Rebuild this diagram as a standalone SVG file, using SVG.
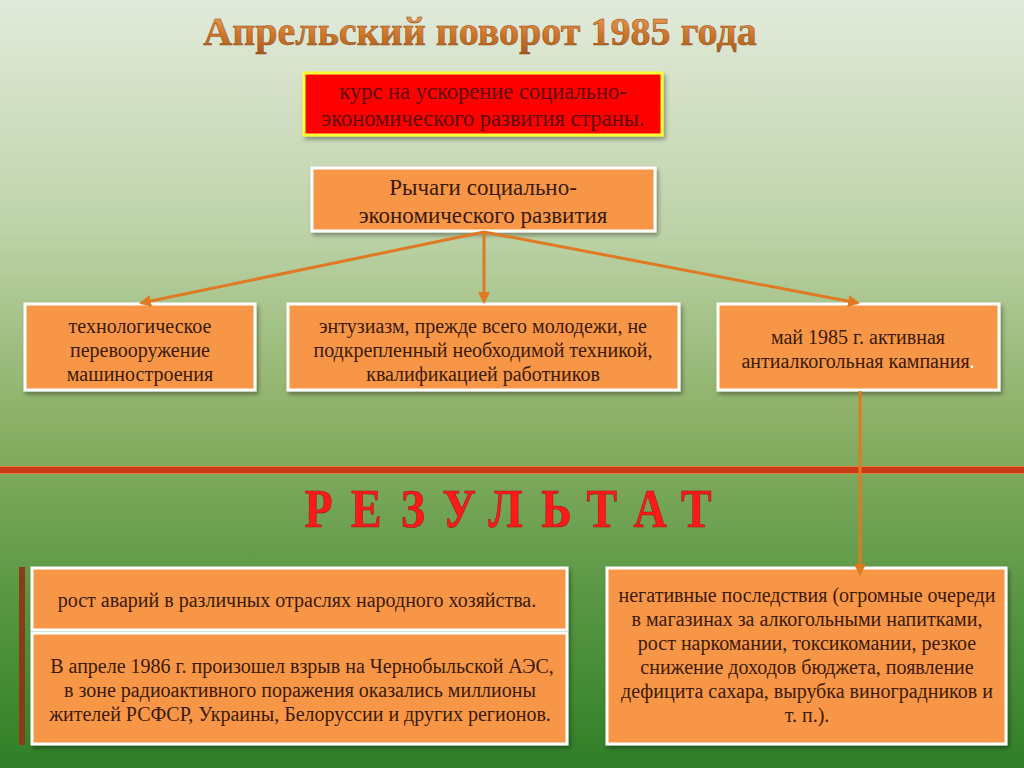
<svg xmlns="http://www.w3.org/2000/svg" width="1024" height="768" viewBox="0 0 1024 768">
<defs>
<linearGradient id="bg" x1="0" y1="0" x2="0" y2="1">
<stop offset="0" stop-color="#e2eadb"/>
<stop offset="0.3" stop-color="#bdd3a8"/>
<stop offset="0.55" stop-color="#8bb066"/>
<stop offset="0.75" stop-color="#5f9a47"/>
<stop offset="1" stop-color="#2f7f27"/>
</linearGradient>
<linearGradient id="tg" x1="0" y1="0" x2="0" y2="1">
<stop offset="0" stop-color="#f0a860"/>
<stop offset="0.5" stop-color="#d47a2c"/>
<stop offset="1" stop-color="#a85a1c"/>
</linearGradient>
<filter id="sh" x="-5%" y="-10%" width="110%" height="130%">
<feDropShadow dx="2" dy="3" stdDeviation="2" flood-color="#000" flood-opacity="0.35"/>
</filter>
<marker id="ah2" markerWidth="12" markerHeight="12" refX="10" refY="6" orient="auto" markerUnits="userSpaceOnUse" viewBox="0 0 12 12">
<path d="M0,0 L12,6 L0,12 z" fill="#e07a22"/>
</marker>
</defs>
<style>
.t{font-family:"Liberation Serif","DejaVu Serif","Times New Roman",serif;fill:#3b1a08;text-anchor:middle}
.box{fill:#f79646;stroke:#ffffff;stroke-width:3;filter:url(#sh)}
.c{stroke:#e07a22;stroke-width:3;fill:none}
</style>
<rect x="0" y="0" width="1024" height="768" fill="url(#bg)"/>

<text x="480" y="45" font-family="'Liberation Serif','DejaVu Serif',serif" font-size="40" font-weight="bold" text-anchor="middle" fill="url(#tg)" stroke="#8a4a18" stroke-width="0.5">Апрельский поворот  1985 года</text>

<rect x="0" y="467" width="1024" height="6" fill="#c83a1a"/>
<rect x="0" y="466" width="1024" height="1" fill="#e8803a"/>
<rect x="0" y="473" width="1024" height="1" fill="#e8803a"/>

<g id="goal">
<rect x="304" y="73" width="358" height="62" fill="#ff0000" stroke="#ffff33" stroke-width="3" filter="url(#sh)"/>
<text class="t" font-size="22.5" style="fill:#5e0a0a"><tspan x="483" y="99">курс на ускорение социально-</tspan><tspan x="483" y="126">экономического развития страны.</tspan></text>
</g>

<g id="levers">
<rect class="box" x="312" y="168" width="343" height="63"/>
<text class="t" font-size="23"><tspan x="483" y="195">Рычаги социально-</tspan><tspan x="483" y="223">экономического развития</tspan></text>
</g>

<g id="tech">
<rect class="box" x="25" y="304" width="230" height="86"/>
<text class="t" font-size="20"><tspan x="140" y="333">технологическое</tspan><tspan x="140" y="357">перевооружение</tspan><tspan x="140" y="381">машиностроения</tspan></text>
</g>

<g id="enthusiasm">
<rect class="box" x="288" y="304" width="391" height="86"/>
<text class="t" font-size="20"><tspan x="483" y="333">энтузиазм, прежде всего молодежи, не</tspan><tspan x="483" y="357">подкрепленный необходимой техникой,</tspan><tspan x="483" y="381">квалификацией работников</tspan></text>
</g>

<g id="antialcohol">
<rect class="box" x="718" y="304" width="281" height="86"/>
<text class="t" font-size="20"><tspan x="858" y="344">май 1985 г. активная</tspan><tspan x="858" y="368">антиалкогольная кампания<tspan style="fill:#ffffff">.</tspan></tspan></text>
</g>

<text x="519" y="527" font-family="'Liberation Serif','DejaVu Serif',serif" font-size="54" font-weight="bold" text-anchor="middle" fill="#ff1a1a" stroke="#a01010" stroke-width="0.6" letter-spacing="21.8" transform="translate(508 527) scale(0.85 1) translate(-508 -527)">РЕЗУЛЬТАТ</text>

<g id="accidents">
<rect x="19" y="567" width="6" height="178" fill="#8b3a1a"/>
<rect class="box" x="32" y="568" width="535" height="62"/>
<text class="t" font-size="20"><tspan x="297" y="607">рост аварий в различных отраслях народного хозяйства.</tspan></text>
</g>

<g id="chernobyl">
<rect class="box" x="32" y="633" width="535" height="111"/>
<text class="t" font-size="20"><tspan x="302" y="673">В апреле 1986 г. произошел взрыв на Чернобыльской АЭС,</tspan><tspan x="300" y="697">в зоне радиоактивного поражения оказались миллионы</tspan><tspan x="300" y="721">жителей РСФСР, Украины, Белоруссии и других регионов.</tspan></text>
</g>

<g id="consequences">
<rect class="box" x="607" y="568" width="399" height="176"/>
<text class="t" font-size="20"><tspan x="807" y="602">негативные последствия (огромные очереди</tspan><tspan x="807" y="626">в магазинах за алкогольными напитками,</tspan><tspan x="807" y="650">рост наркомании, токсикомании, резкое</tspan><tspan x="807" y="674">снижение доходов  бюджета, появление</tspan><tspan x="807" y="698">дефицита сахара, вырубка виноградников и</tspan><tspan x="807" y="722">т. п.).</tspan></text>
</g>

<g id="connectors">
<line class="c" x1="484" y1="232" x2="141" y2="303" marker-end="url(#ah2)"/>
<line class="c" x1="484" y1="232" x2="484" y2="302" marker-end="url(#ah2)"/>
<line class="c" x1="484" y1="232" x2="858" y2="303" marker-end="url(#ah2)"/>
<line class="c" x1="860" y1="391" x2="860" y2="574" marker-end="url(#ah2)"/>
</g>
</svg>
